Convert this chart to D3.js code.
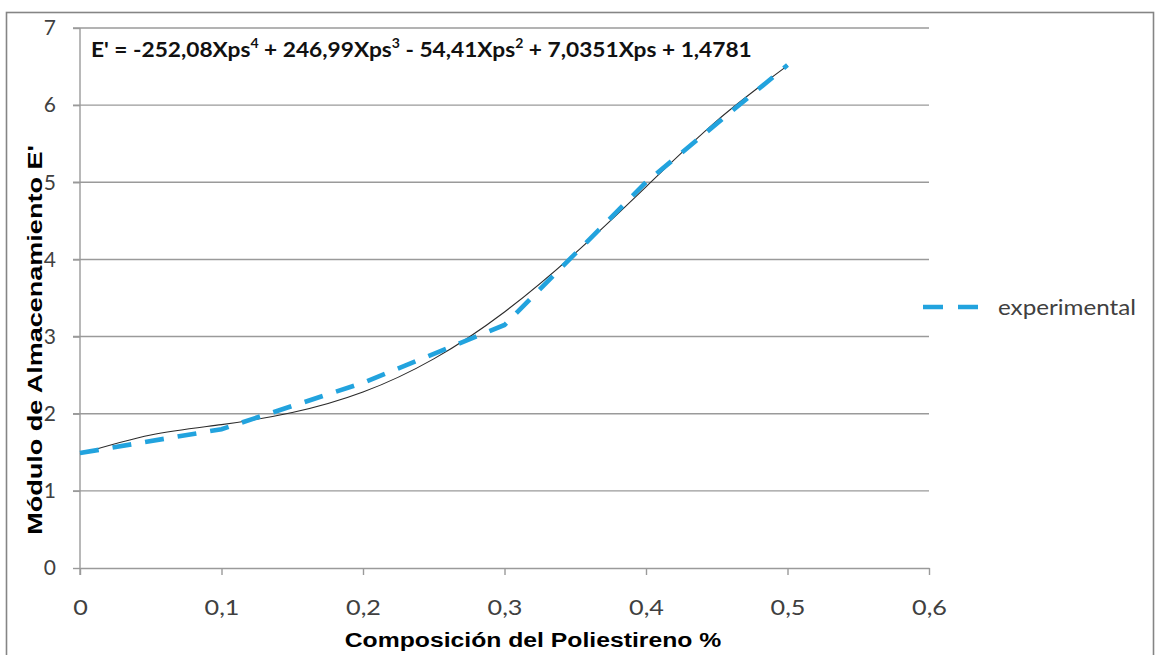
<!DOCTYPE html>
<html>
<head>
<meta charset="utf-8">
<script src="https://cdn.jsdelivr.net/npm/d3@7"></script>
<style>
  body { margin: 0; background: #fff; }
  svg { display: block; }
</style>
</head>
<body>
<svg id="chart" width="1157" height="655"></svg>
<script>
// experimental series
var composicion = [0, 0.1, 0.2, 0.3, 0.4, 0.5];
var experimental = [1.49, 1.80, 2.40, 3.15, 5.00, 6.52];

// polynomial trend line
var trendX = [0, 0.05, 0.1, 0.15, 0.2, 0.25, 0.3, 0.35, 0.4, 0.45, 0.5];
var trendY = [1.478, 1.723, 1.859, 2.015, 2.281, 2.711, 3.319, 4.082, 4.941, 5.796, 6.512];

var xTicks = [0, 0.1, 0.2, 0.3, 0.4, 0.5, 0.6];
var xTickLabels = ["0", "0,1", "0,2", "0,3", "0,4", "0,5", "0,6"];
var yTicks = [0, 1, 2, 3, 4, 5, 6, 7];

var ecuacion = [
  ["E' = -252,08Xps", false], ["4", true],
  [" + 246,99Xps", false], ["3", true],
  [" - 54,41Xps", false], ["2", true],
  [" + 7,0351Xps + 1,4781", false]
];

// squeeze/stretch a text horizontally to a given width
function fit(t, w) {
  var b = t.node().getBBox();
  t.attr("transform", "scale(" + (w / b.width) + ",1)");
}

function main() {
  var svg = d3.select("#chart");
  var grey = "#9a9a9a";

  svg.append("rect")
    .attr("x", 0).attr("y", 0).attr("width", 1157).attr("height", 655)
    .attr("fill", "#fff");

  // outer chart border
  svg.append("rect")
    .attr("x", 6.5).attr("y", 12.5).attr("width", 1147).attr("height", 700)
    .attr("fill", "none").attr("stroke", "#858585").attr("stroke-width", 1.6);

  var xScale = d3.scaleLinear().domain([0, 0.6]).range([80, 929]);
  var yScale = d3.scaleLinear().domain([0, 7]).range([568, 28]);

  // gridlines
  svg.append("g").selectAll("line")
    .data(yTicks.slice(1))
    .enter().append("line")
    .attr("x1", 73).attr("x2", 929)
    .attr("y1", function(d) { return yScale(d); })
    .attr("y2", function(d) { return yScale(d); })
    .attr("stroke", grey).attr("stroke-width", 1.4);

  // axes
  var yAxis = svg.append("g").attr("transform", "translate(80,0)")
    .call(d3.axisLeft(yScale).tickValues(yTicks).tickSize(7).tickSizeOuter(0).tickPadding(17)
      .tickFormat(d3.format("d")));
  var xAxis = svg.append("g").attr("transform", "translate(0,568)")
    .call(d3.axisBottom(xScale).tickValues(xTicks).tickSize(7).tickSizeOuter(0).tickPadding(25)
      .tickFormat(function(d, i) { return xTickLabels[i]; }));

  [xAxis, yAxis].forEach(function(a) {
    a.select(".domain").attr("stroke", grey).attr("stroke-width", 1.4);
    a.selectAll(".tick line").attr("stroke", grey).attr("stroke-width", 1.4);
    a.selectAll(".tick text")
      .attr("fill", "#404040")
      .style("font-family", "Lato, 'Open Sans', sans-serif")
      .style("font-size", "21px");
  });
  yAxis.select(".domain").attr("d", "M0,28V575");
  xAxis.selectAll(".tick text").attr("transform", "scale(1.2,1)");

  // trend line (thin black)
  var trend = trendX.map(function(x, i) { return [x, trendY[i]]; });
  svg.append("path")
    .datum(trend)
    .attr("fill", "none")
    .attr("stroke", "#2b2b2b")
    .attr("stroke-width", 1.1)
    .attr("d", d3.line()
      .x(function(d) { return xScale(d[0]); })
      .y(function(d) { return yScale(d[1]); })
      .curve(d3.curveNatural));

  // experimental dashed line
  var exp = composicion.map(function(x, i) { return [x, experimental[i]]; });
  svg.append("path")
    .datum(exp)
    .attr("fill", "none")
    .attr("stroke", "#22a3de")
    .attr("stroke-width", 4.6)
    .attr("stroke-dasharray", "19,14")
    .attr("d", d3.line()
      .x(function(d) { return xScale(d[0]); })
      .y(function(d) { return yScale(d[1]); }));

  // equation
  var eq = svg.append("g").attr("transform", "translate(91,57)")
    .append("text")
    .attr("fill", "#111")
    .style("font-family", "Lato, sans-serif")
    .style("font-weight", "bold")
    .style("font-size", "21px");
  var up = false;
  ecuacion.forEach(function(p) {
    var ts = eq.append("tspan").text(p[0]);
    if (p[1]) { ts.attr("dy", -9).style("font-size", "13px"); up = true; }
    else if (up) { ts.attr("dy", 9); up = false; }
  });
  fit(eq, 661);

  // axis titles
  var xt = svg.append("g").attr("transform", "translate(533,647)")
    .append("text")
    .attr("text-anchor", "middle")
    .style("font-family", "'Liberation Sans', Arial, sans-serif")
    .style("font-weight", "bold")
    .style("font-size", "21px")
    .text("Composición del Poliestireno %");
  fit(xt, 377);

  var yt = svg.append("g").attr("transform", "translate(42,340) rotate(-90)")
    .append("text")
    .attr("text-anchor", "middle")
    .style("font-family", "'Liberation Sans', Arial, sans-serif")
    .style("font-weight", "bold")
    .style("font-size", "21px")
    .text("Módulo de Almacenamiento E'");
  fit(yt, 390);

  // legend
  svg.append("line")
    .attr("x1", 923).attr("x2", 978).attr("y1", 307).attr("y2", 307)
    .attr("stroke", "#22a3de").attr("stroke-width", 4.6)
    .attr("stroke-dasharray", "20,15");
  var lt = svg.append("g").attr("transform", "translate(998,315)")
    .append("text")
    .attr("fill", "#404040")
    .style("font-family", "Lato, sans-serif")
    .style("font-size", "22px")
    .text("experimental");
  fit(lt, 138);
}

main();
</script>
</body>
</html>
